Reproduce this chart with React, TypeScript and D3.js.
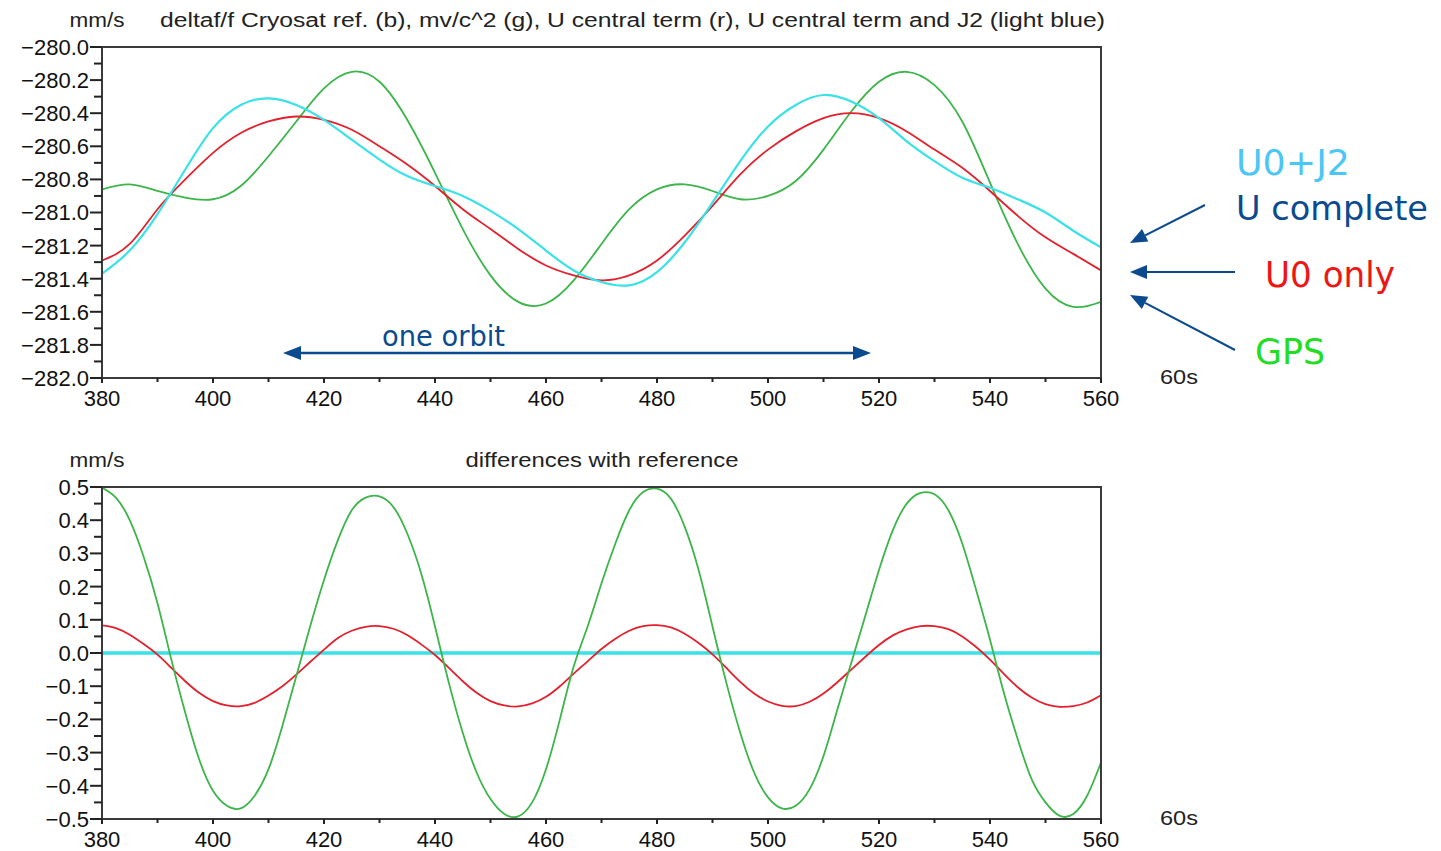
import React from 'react';
import * as d3 from 'd3';

// ---------- DATA ----------
const tTop = [380, 385, 390, 395, 400, 405, 410, 415, 420, 425, 430, 435, 440, 445, 450, 455, 460, 465, 470, 475, 480, 485, 490, 495, 500, 505, 510, 515, 520, 525, 530, 535, 540, 545, 550, 555, 560];
const gpsTop = [-280.86, -280.83, -280.87, -280.91, -280.92, -280.84, -280.66, -280.45, -280.25, -280.15, -280.21, -280.44, -280.76, -281.10, -281.38, -281.54, -281.55, -281.41, -281.19, -280.98, -280.86, -280.83, -280.87, -280.92, -280.90, -280.81, -280.62, -280.39, -280.21, -280.15, -280.23, -280.45, -280.82, -281.19, -281.46, -281.57, -281.54];
const u0Top = [-281.29, -281.19, -280.98, -280.80, -280.64, -280.52, -280.45, -280.42, -280.44, -280.50, -280.60, -280.71, -280.84, -280.98, -281.10, -281.22, -281.32, -281.38, -281.41, -281.38, -281.29, -281.14, -280.96, -280.77, -280.62, -280.51, -280.43, -280.40, -280.43, -280.51, -280.62, -280.73, -280.87, -281.02, -281.15, -281.25, -281.35];
const u0j2Top = [-281.37, -281.23, -281.01, -280.74, -280.49, -280.35, -280.31, -280.35, -280.44, -280.56, -280.68, -280.78, -280.84, -280.90, -280.99, -281.10, -281.23, -281.35, -281.42, -281.44, -281.36, -281.18, -280.94, -280.69, -280.48, -280.35, -280.29, -280.33, -280.43, -280.57, -280.69, -280.79, -280.85, -280.92, -281.00, -281.11, -281.21];

const tDiff = [380, 382.5, 385, 387.5, 390, 392.5, 395, 397.5, 400, 402.5, 405, 407.5, 410, 412.5, 415, 417.5, 420, 422.5, 425, 427.5, 430, 432.5, 435, 437.5, 440, 442.5, 445, 447.5, 450, 452.5, 455, 457.5, 460, 462.5, 465, 467.5, 470, 472.5, 475, 477.5, 480, 482.5, 485, 487.5, 490, 492.5, 495, 497.5, 500, 502.5, 505, 507.5, 510, 512.5, 515, 517.5, 520, 522.5, 525, 527.5, 530, 532.5, 535, 537.5, 540, 542.5, 545, 547.5, 550, 552.5, 555, 557.5, 560];
const gpsDiff = [0.498, 0.468, 0.40, 0.29, 0.15, -0.02, -0.18, -0.32, -0.415, -0.46, -0.468, -0.43, -0.35, -0.22, -0.07, 0.08, 0.22, 0.34, 0.43, 0.468, 0.472, 0.44, 0.36, 0.24, 0.08, -0.09, -0.24, -0.36, -0.44, -0.485, -0.492, -0.45, -0.35, -0.20, -0.04, 0.08, 0.21, 0.33, 0.43, 0.485, 0.495, 0.465, 0.38, 0.25, 0.08, -0.09, -0.24, -0.36, -0.435, -0.468, -0.46, -0.41, -0.31, -0.17, -0.03, 0.11, 0.25, 0.37, 0.45, 0.482, 0.478, 0.43, 0.33, 0.19, 0.04, -0.12, -0.26, -0.38, -0.45, -0.49, -0.485, -0.43, -0.33];
const u0Diff = [0.083, 0.075, 0.055, 0.027, -0.005, -0.045, -0.085, -0.12, -0.145, -0.158, -0.16, -0.15, -0.128, -0.10, -0.065, -0.027, 0.01, 0.045, 0.067, 0.079, 0.081, 0.073, 0.054, 0.026, -0.006, -0.045, -0.085, -0.12, -0.145, -0.158, -0.161, -0.152, -0.132, -0.10, -0.062, -0.025, 0.012, 0.043, 0.067, 0.081, 0.084, 0.077, 0.058, 0.03, -0.004, -0.045, -0.087, -0.122, -0.146, -0.159, -0.16, -0.147, -0.122, -0.088, -0.05, -0.012, 0.024, 0.053, 0.071, 0.081, 0.081, 0.072, 0.05, 0.018, -0.02, -0.063, -0.103, -0.134, -0.154, -0.162, -0.16, -0.149, -0.127];
const tDiffRef = [380, 560];
const u0j2Diff = [0, 0];

const xTicks = [380, 400, 420, 440, 460, 480, 500, 520, 540, 560];
const xMinorTicks = [390, 410, 430, 450, 470, 490, 510, 530, 550];
const yTicksTop = [-280.0, -280.2, -280.4, -280.6, -280.8, -281.0, -281.2, -281.4, -281.6, -281.8, -282.0];
const yMinorTop = [-280.1, -280.3, -280.5, -280.7, -280.9, -281.1, -281.3, -281.5, -281.7, -281.9];
const yTicksBottom = [0.5, 0.4, 0.3, 0.2, 0.1, 0.0, -0.1, -0.2, -0.3, -0.4, -0.5];
const yMinorBottom = [0.45, 0.35, 0.25, 0.15, 0.05, -0.05, -0.15, -0.25, -0.35, -0.45];

const topTitle = 'deltaf/f Cryosat ref. (b), mv/c^2 (g), U central term (r), U central term and J2 (light blue)';
const bottomTitle = 'differences with reference';

// ---------- STYLE ----------
const GREEN = '#3cb54a';
const RED = '#e4202c';
const CYAN = '#38e2e6';
const DARKBLUE = '#0b4a8e';
const AXIS_FONT = '"Liberation Sans", Arial, sans-serif';
const NOTE_FONT = '"Comic Sans MS", "DejaVu Sans", sans-serif';
const fmt = d3.format('.1f');

const X0 = 102, X1 = 1101;
const x = d3.scaleLinear().domain([380, 560]).range([X0, X1]);

type Series = { t: number[]; v: number[]; color: string; width: number };

function Panel(props: {
  top: number; bottom: number; domain: [number, number];
  ticks: number[]; minor: number[]; series: Series[];
  title: string; titleX: number; titleLen: number; titleAnchor: 'start' | 'middle';
  clipId: string;
}) {
  const { top, bottom, domain, ticks, minor, series, clipId } = props;
  const y = d3.scaleLinear().domain(domain).range([bottom, top]);
  const line = (s: Series) =>
    d3.line<number>()
      .x((_, i) => x(s.t[i]))
      .y((d) => y(d))
      .curve(d3.curveNatural)(s.v) || '';
  return (
    <g>
      <defs>
        <clipPath id={clipId}>
          <rect x={X0} y={top} width={X1 - X0} height={bottom - top} />
        </clipPath>
      </defs>
      <text x={97} y={top - 20} fontFamily={AXIS_FONT} fontSize={20} textAnchor="middle" fill="#222"
        textLength={55} lengthAdjust="spacingAndGlyphs">mm/s</text>
      <text x={props.titleX} y={top - 20} fontFamily={AXIS_FONT} fontSize={20} textAnchor={props.titleAnchor}
        fill="#222" textLength={props.titleLen} lengthAdjust="spacingAndGlyphs">{props.title}</text>
      <g clipPath={`url(#${clipId})`}>
        {series.map((s, i) => (
          <path key={i} d={line(s)} fill="none" stroke={s.color} strokeWidth={s.width} strokeLinejoin="round" />
        ))}
      </g>
      <rect x={X0} y={top} width={X1 - X0} height={bottom - top} fill="none" stroke="#3a3a3a" strokeWidth={2} />
      {ticks.map((v) => (
        <g key={'y' + v}>
          <line x1={X0 - 12} x2={X0} y1={y(v)} y2={y(v)} stroke="#222" strokeWidth={2} />
          <text x={X0 - 13} y={y(v)} dy="0.36em" textAnchor="end" fontFamily={AXIS_FONT} fontSize={22} fill="#111">
            {fmt(v)}
          </text>
        </g>
      ))}
      {minor.map((v) => (
        <line key={'ym' + v} x1={X0 - 8} x2={X0} y1={y(v)} y2={y(v)} stroke="#222" strokeWidth={2} />
      ))}
      {xTicks.map((t) => (
        <g key={'x' + t}>
          <line x1={x(t)} x2={x(t)} y1={bottom} y2={bottom + 5} stroke="#222" strokeWidth={2} />
          <text x={x(t)} y={bottom + 28} textAnchor="middle" fontFamily={AXIS_FONT} fontSize={22} fill="#111">
            {String(t)}
          </text>
        </g>
      ))}
      {xMinorTicks.map((t) => (
        <line key={'xm' + t} x1={x(t)} x2={x(t)} y1={bottom} y2={bottom + 4} stroke="#222" strokeWidth={2} />
      ))}
      <text x={1160} y={bottom + 6} fontFamily={AXIS_FONT} fontSize={21} fill="#222"
        textLength={38} lengthAdjust="spacingAndGlyphs">60s</text>
    </g>
  );
}

function Arrow(props: { x1: number; y1: number; x2: number; y2: number; w?: number; head?: number; half?: number }) {
  const { x1, y1, x2, y2 } = props;
  const w = props.w ?? 2;
  const L = props.head ?? 17;
  const h = props.half ?? 7;
  const a = Math.atan2(y2 - y1, x2 - x1);
  const bx = x2 - L * Math.cos(a), by = y2 - L * Math.sin(a);
  const px = -Math.sin(a) * h, py = Math.cos(a) * h;
  return (
    <g>
      <line x1={x1} y1={y1} x2={bx} y2={by} stroke={DARKBLUE} strokeWidth={w} />
      <polygon points={`${x2},${y2} ${bx + px},${by + py} ${bx - px},${by - py}`} fill={DARKBLUE} />
    </g>
  );
}

export default function App() {
  const topSeries: Series[] = [
    { t: tTop, v: gpsTop, color: GREEN, width: 1.8 },
    { t: tTop, v: u0Top, color: RED, width: 1.8 },
    { t: tTop, v: u0j2Top, color: CYAN, width: 2.2 },
  ];
  const bottomSeries: Series[] = [
    { t: tDiffRef, v: u0j2Diff, color: CYAN, width: 3.5 },
    { t: tDiff, v: u0Diff, color: RED, width: 1.8 },
    { t: tDiff, v: gpsDiff, color: GREEN, width: 1.8 },
  ];
  return (
    <svg width={1441} height={851} style={{ position: 'absolute', left: 0, top: 0, background: '#fff' }}>
      <rect x={0} y={0} width={1441} height={851} fill="#fff" />
      <Panel top={47} bottom={378} domain={[-282, -280]} ticks={yTicksTop} minor={yMinorTop}
        series={topSeries} title={topTitle} titleX={160} titleLen={945} titleAnchor="start" clipId="c1" />
      <Panel top={487} bottom={819} domain={[-0.5, 0.5]} ticks={yTicksBottom} minor={yMinorBottom}
        series={bottomSeries} title={bottomTitle} titleX={602} titleLen={273} titleAnchor="middle" clipId="c2" />

      {/* one orbit annotation */}
      <text x={382} y={346} fontFamily={NOTE_FONT} fontSize={28} fill={DARKBLUE}
        textLength={123} lengthAdjust="spacingAndGlyphs">one orbit</text>
      <Arrow x1={577} y1={353} x2={283} y2={353} w={2.5} head={18} half={7} />
      <Arrow x1={577} y1={353} x2={871} y2={353} w={2.5} head={18} half={7} />

      {/* right-side labels */}
      <text x={1236} y={175} fontFamily={NOTE_FONT} fontSize={36} fill="#4cc6f4"
        textLength={114} lengthAdjust="spacingAndGlyphs">U0+J2</text>
      <text x={1236} y={220} fontFamily={NOTE_FONT} fontSize={34} fill={DARKBLUE}
        textLength={192} lengthAdjust="spacingAndGlyphs">U complete</text>
      <text x={1265} y={287} fontFamily={NOTE_FONT} fontSize={36} fill="#ee1515"
        textLength={130} lengthAdjust="spacingAndGlyphs">U0 only</text>
      <text x={1255} y={364} fontFamily={NOTE_FONT} fontSize={36} fill="#22dd22"
        textLength={70} lengthAdjust="spacingAndGlyphs">GPS</text>
      <Arrow x1={1205} y1={205} x2={1130} y2={243} />
      <Arrow x1={1235} y1={272} x2={1130} y2={272} />
      <Arrow x1={1235} y1={350} x2={1130} y2={295} />
    </svg>
  );
}
